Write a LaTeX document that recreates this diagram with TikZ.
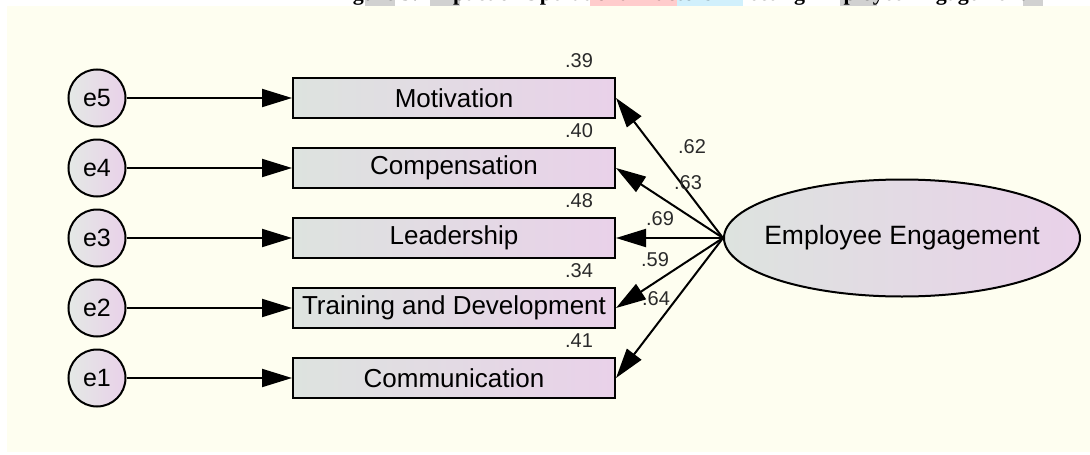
\documentclass[tikz,border=0pt]{standalone}
\usepackage{fontspec}
\setmainfont{Liberation Sans}
\newfontfamily\titlefont{Liberation Serif}
\usetikzlibrary{shapes.geometric,arrows.meta,calc}
\definecolor{paper}{HTML}{FEFEF0}
\definecolor{boxgrey}{HTML}{DDE3DF}
\definecolor{boxpink}{HTML}{E9D1E9}
\definecolor{numgrey}{HTML}{2A2A2A}
\tikzset{
  errvar/.style={circle,draw,line width=2pt,minimum size=57pt,inner sep=0pt,
    left color=boxgrey!80!white,right color=boxpink,font=\fontsize{25}{30}\selectfont},
  obsvar/.style={rectangle,draw,line width=2pt,minimum width=322pt,minimum height=40pt,
    inner sep=0pt,left color=boxgrey,right color=boxpink,font=\fontsize{26}{30}\selectfont},
  latvar/.style={ellipse,draw,line width=2pt,minimum width=356pt,minimum height=117pt,
    inner xsep=-16pt,inner ysep=0pt,left color=boxgrey,right color=boxpink,
    font=\fontsize{26.5}{30}\selectfont},
  regpath/.style={line width=2pt,-{Triangle[length=30pt,width=18pt]}},
  coef/.style={font=\fontsize{20}{20}\selectfont,text=numgrey,inner sep=0pt}
}
\begin{document}
\begin{tikzpicture}[x=1pt,y=-1pt]
\useasboundingbox (0,0) rectangle (1090,455);
\fill[white] (0,0) rectangle (1090,455);
\fill[paper] (7,6) rectangle (1090,452);
\fill[black!18] (365,0) rectangle (395,6);
\fill[black!18] (430,0) rectangle (460,6);
\fill[red!20] (590,0) rectangle (677,6);
\fill[cyan!18] (677,0) rectangle (743,6);
\fill[black!18] (840,0) rectangle (877,6);
\fill[black!18] (1023,0) rectangle (1043,6);
\node[anchor=base west,inner sep=0pt,font=\titlefont\bfseries\fontsize{22}{24}\selectfont] (title) at (333,0.5)
  {Figure 3: Impact of Operational Factors Affecting Employee Engagement};

\node[errvar] (e5) at (97,98) {e5};
\node[errvar] (e4) at (97,168) {e4};
\node[errvar] (e3) at (97,238) {e3};
\node[errvar] (e2) at (97,308) {e2};
\node[errvar] (e1) at (97,378) {e1};

\node[obsvar] (m5) at (454,98) {Motivation};
\node[obsvar] (m4) at (454,168) {Compensation};
\node[obsvar] (m3) at (454,238) {Leadership};
\node[obsvar] (m2) at (454,308) {Training and Development};
\node[obsvar] (m1) at (454,378) {Communication};

\node[latvar] (eng) at (902,238) {Employee Engagement};

\node[coef] (r5) at ($(m5.north east)+(-37,-16)$) {.39};
\node[coef] (r4) at ($(m4.north east)+(-37,-16)$) {.40};
\node[coef] (r3) at ($(m3.north east)+(-37,-16)$) {.48};
\node[coef] (r2) at ($(m2.north east)+(-37,-16)$) {.34};
\node[coef] (r1) at ($(m1.north east)+(-37,-16)$) {.41};

\draw[regpath] (e5) -- (m5);
\draw[regpath] (e4) -- (m4);
\draw[regpath] (e3) -- (m3);
\draw[regpath] (e2) -- (m2);
\draw[regpath] (e1) -- (m1);

\draw[regpath] (eng.west) -- (m5.east);
\draw[regpath] (eng.west) -- (m4.east);
\draw[regpath] (eng.west) -- (m3.east);
\draw[regpath] (eng.west) -- (m2.east);
\draw[regpath] (eng.west) -- (m1.east);

\node[coef] (w5) at (692,147) {.62};
\node[coef] (w4) at (688,183) {.63};
\node[coef] (w3) at (660,219) {.69};
\node[coef] (w2) at (655,260) {.59};
\node[coef] (w1) at (656,299) {.64};
\end{tikzpicture}
\end{document}
